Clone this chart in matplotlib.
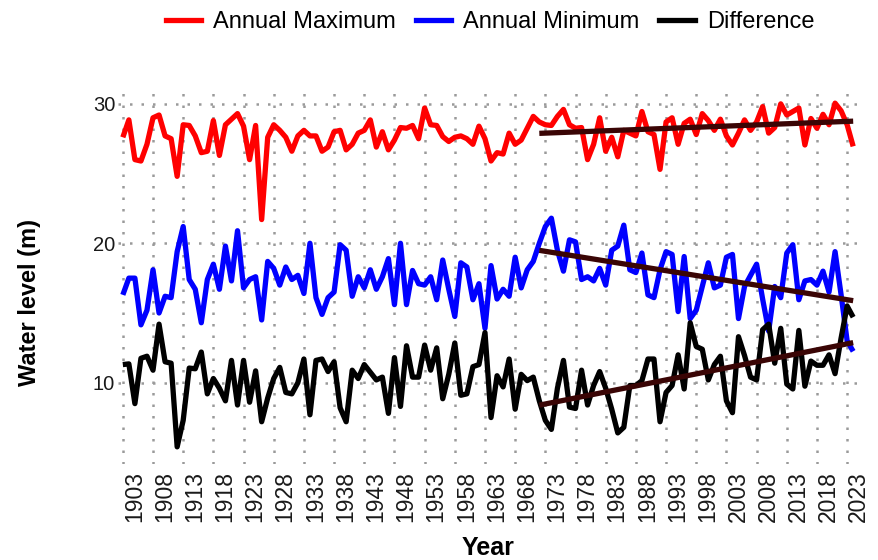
import numpy as np
import matplotlib
matplotlib.use("Agg")
import matplotlib.pyplot as plt
from matplotlib.lines import Line2D

plt.rcParams['font.family'] = ['Liberation Sans', 'DejaVu Sans']

# Annual water levels (m), one value per year
years = np.arange(1903, 2025)

annual_max = [
    27.6, 28.85, 26.0, 25.9, 27.1, 29.0, 29.2, 27.7, 27.5, 24.8,
    28.5, 28.45, 27.7, 26.5, 26.6, 28.8, 26.3, 28.5, 28.9, 29.3,
    28.4, 26.0, 28.45, 21.7, 27.6, 28.5, 28.1, 27.6, 26.6, 27.7,
    28.1, 27.7, 27.7, 26.6, 26.9, 28.0, 28.1, 26.7, 27.1, 27.9,
    28.1, 28.85, 26.9, 28.0, 26.7, 27.4, 28.3, 28.25, 28.45, 27.5,
    29.7, 28.5, 28.45, 27.65, 27.3, 27.6, 27.7, 27.5, 27.1, 28.4,
    27.5, 25.9, 26.5, 26.4, 27.9, 27.1, 27.4, 28.25, 29.1, 28.7,
    28.5, 28.45, 29.1, 29.6, 28.5, 28.25, 28.3, 26.0, 27.1, 29.0,
    26.6, 27.6, 26.2, 28.1, 27.9, 27.7, 29.45, 28.0, 27.8, 25.3,
    28.7, 29.0, 27.1, 28.6, 28.9, 27.8, 29.3, 28.8, 28.1, 28.9,
    27.7, 27.05, 27.9, 28.85, 28.1, 28.7, 29.8, 27.9, 28.3, 30.0,
    29.2, 29.45, 29.7, 27.05, 28.95, 28.25, 29.25, 28.5, 30.05, 29.5,
    28.5, 26.95,
]

annual_min = [
    16.3, 17.5, 17.5, 14.15, 15.2, 18.1, 15.0, 16.2, 16.1, 19.4,
    21.2, 17.4, 16.7, 14.3, 17.4, 18.5, 16.7, 19.8, 17.3, 20.9,
    16.8, 17.4, 17.6, 14.5, 18.7, 18.2, 17.0, 18.3, 17.4, 17.7,
    16.4, 20.0, 16.1, 14.9, 16.1, 16.5, 19.9, 19.5, 16.2, 17.6,
    16.8, 18.1, 16.7, 17.6, 18.9, 15.6, 20.0, 15.6, 18.05, 17.1,
    17.0, 17.6, 15.95, 18.8, 16.7, 14.75, 18.6, 18.3, 15.95, 17.1,
    13.9, 18.4, 16.0, 16.7, 16.2, 19.0, 16.8, 18.1, 18.7, 20.0,
    21.2, 21.8, 19.5, 18.0, 20.25, 20.1, 17.4, 17.6, 17.3, 18.2,
    17.0, 19.5, 19.8, 21.3, 18.1, 17.9, 19.3, 16.3, 16.1, 18.1,
    19.4, 19.2, 15.1, 19.05, 14.6, 15.2, 16.9, 18.6, 16.8, 17.0,
    19.0, 19.2, 14.6, 16.9, 17.7, 18.5, 16.0, 13.7, 16.9, 16.1,
    19.3, 19.9, 15.95, 17.3, 17.4, 17.0, 18.0, 16.5, 19.4, 16.3,
    13.0, 12.25,
]

annual_max = np.array(annual_max)
annual_min = np.array(annual_min)
difference = annual_max - annual_min

trend_start = 1972
tick_years = np.arange(1903, 2024, 5)

series = [
    ("Annual Maximum", annual_max, "#ff0000"),
    ("Annual Minimum", annual_min, "#0000ff"),
    ("Difference", difference, "#000000"),
]
trend_color = "#3a0505"

fig = plt.figure(figsize=(8.79, 5.60), dpi=100)
W, H = 879, 560
left_px, right_px, top_px, bottom_px = 118, 858, 86, 464
ax = fig.add_axes([left_px / W, 1 - bottom_px / H,
                   (right_px - left_px) / W, (bottom_px - top_px) / H])

grid_kw = dict(color="#9a9a9a", linewidth=1.8, linestyle=(0, (1, 3.6)),
               zorder=0, dash_capstyle="butt")
for yv in (10, 20, 30):
    ax.axhline(yv, **grid_kw)
for xv in tick_years:
    ax.axvline(xv, **grid_kw)

for label, values, color in series:
    ax.plot(years, values, color=color, linewidth=3.8, label=label,
            solid_joinstyle="round", solid_capstyle="butt", zorder=2)

# Linear trends over the recent period
mask = years >= trend_start
for _, values, _ in series:
    slope, intercept = np.polyfit(years[mask], values[mask], 1)
    xs = years[mask][[0, -1]]
    ax.plot(xs, slope * xs + intercept, color=trend_color, linewidth=3.8,
            solid_capstyle="butt", zorder=3)

ax.set_xlim(1902.2, 2024.8)
ax.set_ylim(4.17, 31.28)
ax.set_yticks([10, 20, 30])
ax.set_xticks(tick_years)
ax.set_xticklabels([str(y) for y in tick_years], rotation=90, ha="left",
                   va="top", fontsize=16.5, color="#1a1a1a")
ax.tick_params(axis="y", labelsize=14.5, labelcolor="#1a1a1a", length=0, pad=2)
ax.tick_params(axis="x", length=0, pad=5)
for s in ax.spines.values():
    s.set_visible(False)

# Axis titles placed in figure pixels
fig.text(488 / W, 1 - 548 / H, "Year", fontsize=18, fontweight="bold",
         ha="center", va="center")
fig.text(30 / W, 1 - 302 / H, "Water level (m)", fontsize=17,
         fontweight="bold", rotation=90, ha="center", va="center")

handles = [Line2D([0], [0], color=c, linewidth=3.8) for _, _, c in series]
fig.legend(handles, [s[0] for s in series], loc="center",
           bbox_to_anchor=(490 / W, 1 - 22 / H), ncol=3, frameon=False,
           fontsize=17, handlelength=1.5, columnspacing=0.85,
           handletextpad=0.5)

fig.savefig("out.png", dpi=100)
